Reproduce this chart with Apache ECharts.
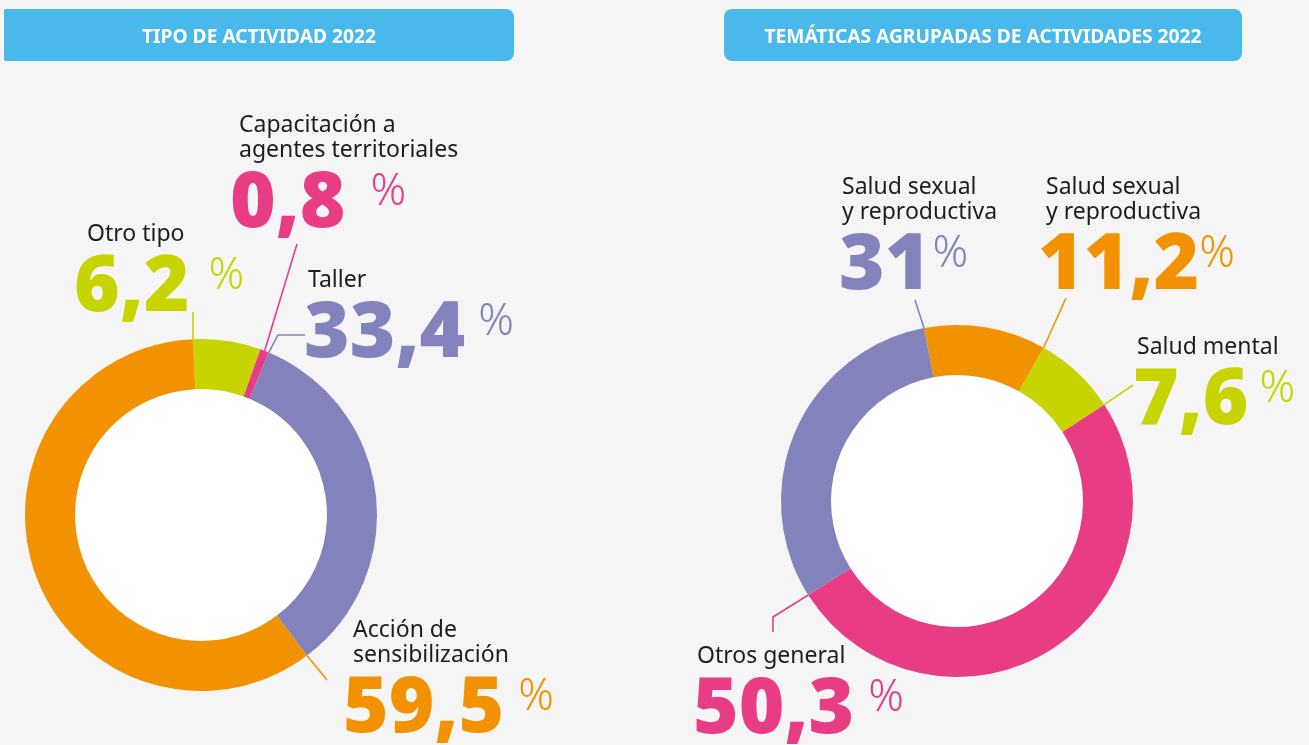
<!DOCTYPE html>
<html>
<head>
<meta charset="utf-8">
<script src="https://cdn.jsdelivr.net/npm/echarts@6/dist/echarts.min.js"></script>
<style>
  html, body { margin: 0; padding: 0; background: #f5f5f5; }
  #chart { width: 1309px; height: 745px; }
</style>
</head>
<body>
<div id="chart"></div>
<script>
// Tipo de actividad 2022 (porcentajes)
const tipoCategories = ['Otro tipo', 'Capacitación a\nagentes territoriales', 'Taller', 'Acción de\nsensibilización'];
const tipoValues = [6.2, 0.8, 33.4, 59.5];

// Temáticas agrupadas de actividades 2022 (porcentajes)
const tematicaCategories = ['Salud sexual\ny reproductiva', 'Salud mental', 'Otros general', 'Salud sexual\ny reproductiva'];
const tematicaValues = [11.2, 7.6, 50.3, 31];

const panelTitles = ['TIPO DE ACTIVIDAD 2022', 'TEMÁTICAS AGRUPADAS DE ACTIVIDADES 2022'];

// Palette
const ORANGE = '#f39200', PURPLE = '#8282bd', GREEN = '#c8d400', PINK = '#e83c84', SKY = '#48b9ea';
const R_IN = 126, R_OUT = 176;
const FONT = '"Noto Sans", "Open Sans", sans-serif';

// Layout of each donut: where the labels sit and how the leader lines bend.
// t = position along the slice (0 = start, 1 = end) where the leader touches the ring.
const panels = [
  {
    title: panelTitles[0], cats: tipoCategories, vals: tipoValues,
    colors: [GREEN, PINK, PURPLE, ORANGE],
    center: [201, 515], startAngle: 92.6,
    header: { x: 4, y: 9, w: 510, h: 52, r: [2, 8, 8, 2] }, titleScale: 0.96,
    labels: [
      { x: 74,  y: 222, indent: 13, pctPad: 19, t: 0,   pts: [[193, 312]] },
      { x: 230, y: 113, indent: 9,  pctPad: 25, t: 0.5, pts: [[297, 244]] },
      { x: 304, y: 268, indent: 4,  pctPad: 13, t: 0,   pts: [[278, 335], [305, 335]] },
      { x: 343, y: 618, indent: 10, pctPad: 14, t: 0,   pts: [[327, 680]] }
    ]
  },
  {
    title: panelTitles[1], cats: tematicaCategories, vals: tematicaValues,
    colors: [ORANGE, GREEN, PINK, PURPLE],
    center: [957, 501], startAngle: 100.8,
    header: { x: 724, y: 9, w: 518, h: 52, r: 8 }, titleScale: 0.96,
    labels: [
      { x: 1038, y: 175, indent: 8, pctPad: 0,  t: 1, pts: [[1066, 298]] },
      { x: 1133, y: 335, indent: 4, pctPad: 11, t: 1, pts: [[1133, 385]] },
      { x: 693,  y: 644, indent: 4, pctPad: 14, t: 1, pts: [[773, 617], [773, 632]] },
      { x: 839,  y: 175, indent: 3, pctPad: 2,  t: 1, pts: [[915, 300]] }
    ]
  }
];

const fmt = v => String(v).replace('.', ',');

function buildSeries(p) {
  const total = p.vals.reduce((a, b) => a + b, 0);
  const cum = [];
  let acc = 0;
  p.vals.forEach(v => { cum.push(acc); acc += v; });

  const rich = {};
  p.labels.forEach((l, i) => {
    rich['n' + i] = { fontFamily: FONT, fontSize: 23, lineHeight: 25, color: '#1d1d1b', padding: [0, 0, 0, l.indent] };
    rich['v' + i] = { fontFamily: FONT, fontSize: 78, fontWeight: 900, lineHeight: 84, color: p.colors[i] };
    rich['p' + i] = { fontFamily: FONT, fontSize: 44, fontWeight: 300, lineHeight: 50, verticalAlign: 'top', color: p.colors[i], padding: [7, 0, 0, l.pctPad] };
  });

  // point on the outer rim at fraction f of the whole donut
  const rim = f => {
    const a = (p.startAngle - f * 360) * Math.PI / 180;
    return [p.center[0] + R_OUT * Math.cos(a), p.center[1] - R_OUT * Math.sin(a)];
  };

  const ring = {
    type: 'pie',
    center: p.center,
    radius: [R_IN, R_OUT],
    startAngle: p.startAngle,
    clockwise: true,
    avoidLabelOverlap: false,
    emphasis: { disabled: true },
    animation: false,
    z: 2,
    itemStyle: { borderWidth: 0 },
    label: {
      show: true,
      position: 'outside',
      overflow: 'none',
      rich: rich,
      formatter: params => {
        const i = params.dataIndex;
        return '{n' + i + '|' + p.cats[i] + '}\n{v' + i + '|' + fmt(p.vals[i]) + '}{p' + i + '|%}';
      }
    },
    labelLine: { show: true, smooth: false, lineStyle: { width: 1.6 } },
    labelLayout: params => {
      const i = params.dataIndex;
      const l = p.labels[i];
      const start = rim((cum[i] + l.t * p.vals[i]) / total);
      return {
        x: l.x, y: l.y, align: 'left', verticalAlign: 'top',
        labelLinePoints: [start].concat(l.pts)
      };
    },
    data: p.vals.map((v, i) => ({
      value: v,
      name: p.cats[i],
      itemStyle: { color: p.colors[i] },
      labelLine: { lineStyle: { color: p.colors[i] } }
    }))
  };

  // white hole of the donut
  const hole = {
    type: 'pie',
    center: p.center,
    radius: [0, R_IN],
    silent: true,
    animation: false,
    z: 1,
    label: { show: false },
    labelLine: { show: false },
    emphasis: { disabled: true },
    data: [{ value: 1, itemStyle: { color: '#ffffff' } }]
  };
  return [hole, ring];
}

const graphics = [];
panels.forEach(p => {
  const h = p.header;
  graphics.push({
    type: 'rect', z: 10,
    shape: { x: h.x, y: h.y, width: h.w, height: h.h, r: h.r },
    style: { fill: SKY }
  });
  graphics.push({
    type: 'text', z: 11,
    x: h.x + h.w / 2, y: h.y + 28.3, scaleX: p.titleScale,
    style: {
      text: p.title, fill: '#ffffff',
      font: 'bold 20px ' + FONT,
      align: 'center', verticalAlign: 'middle',
      textAlign: 'center', textVerticalAlign: 'middle'
    }
  });
});

const chart = echarts.init(document.getElementById('chart'), null, { renderer: 'canvas' });
chart.setOption({
  backgroundColor: '#f5f5f5',
  animation: false,
  graphic: { elements: graphics },
  series: panels.flatMap(buildSeries)
});
</script>
</body>
</html>
